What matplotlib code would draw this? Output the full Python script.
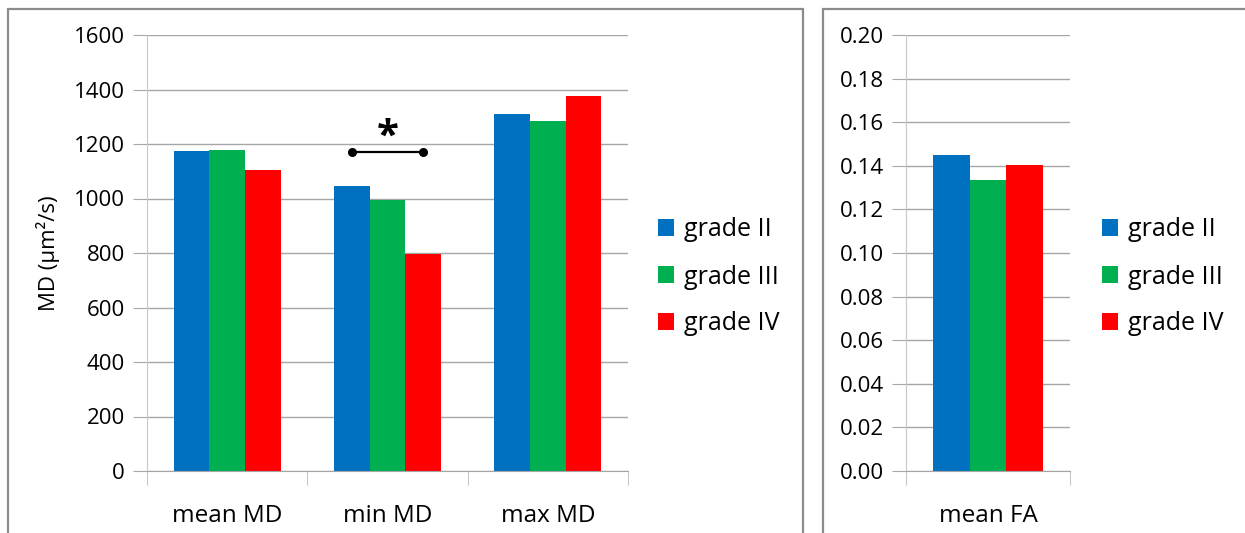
import matplotlib
matplotlib.use("Agg")
import matplotlib.pyplot as plt
from matplotlib.patches import Rectangle
import numpy as np

plt.rcParams['font.family'] = ['Open Sans', 'DejaVu Sans']

# Data
md_categories = ["mean MD", "min MD", "max MD"]
fa_categories = ["mean FA"]
grades = ["grade II", "grade III", "grade IV"]
md_grade2 = [1174, 1046, 1310]
md_grade3 = [1177, 994, 1284]
md_grade4 = [1104, 796, 1376]
fa_grade2 = [0.145]
fa_grade3 = [0.1335]
fa_grade4 = [0.1405]
md_ticks = [0, 200, 400, 600, 800, 1000, 1200, 1400, 1600]
fa_ticks = [0.00, 0.02, 0.04, 0.06, 0.08, 0.10, 0.12, 0.14, 0.16, 0.18, 0.20]
sig_level = 1170

colors = ["#0070C0", "#00B050", "#FF0000"]
grid_col = "#a6a6a6"
W, H = 1245, 533

fig = plt.figure(figsize=(W / 100, H / 100), dpi=100)

# Chart-area borders
fig.patches.append(Rectangle((8 / W, -0.05), (803 - 8) / W, 1.05 - 9 / H,
                             transform=fig.transFigure, fill=False,
                             edgecolor="#8c8c8c", lw=1.6))
fig.patches.append(Rectangle((823 / W, -0.05), 0.5, 1.05 - 9 / H,
                             transform=fig.transFigure, fill=False,
                             edgecolor="#8c8c8c", lw=1.6))

bottom = 1 - 471 / H
height = (471 - 35) / H
ax1 = fig.add_axes([147 / W, bottom, (628 - 147) / W, height])
ax2 = fig.add_axes([906 / W, bottom, (1070 - 906) / W, height])

bw = 0.6667 / 3
offs = [-bw, 0, bw]


def style(ax, ticks, labels, ncat, fmt):
    ax.set_xlim(-0.5, ncat - 0.5)
    ax.set_ylim(ticks[0], ticks[-1])
    ax.set_yticks(ticks)
    ax.set_yticklabels([fmt(t) for t in ticks])
    ax.yaxis.grid(True, color=grid_col, lw=1)
    ax.set_axisbelow(True)
    for s in ("top", "right"):
        ax.spines[s].set_visible(False)
    ax.spines["left"].set_color("#c8c8c8")
    ax.spines["bottom"].set_color(grid_col)
    ax.tick_params(axis="y", length=10, color=grid_col, labelsize=16, pad=6)
    ax.set_xticks(np.arange(-0.5, ncat, 1.0))
    ax.set_xticklabels([])
    ax.set_xticks(np.arange(ncat), minor=True)
    ax.set_xticklabels(labels, minor=True, fontsize=17.5)
    ax.tick_params(axis="x", which="major", length=10, color="#c8c8c8")
    ax.tick_params(axis="x", which="minor", length=0, pad=24)


x1 = np.arange(len(md_categories))
for i, vals in enumerate([md_grade2, md_grade3, md_grade4]):
    ax1.bar(x1 + offs[i], vals, bw, color=colors[i], label=grades[i], zorder=2)
style(ax1, md_ticks, md_categories, 3, lambda t: f"{t:d}")
ax1.set_ylabel("MD (µm²/s)", fontsize=16, labelpad=10)

# Significance marker between grade II and grade IV for min MD
ax1.plot([1 + offs[0], 1 + offs[2]], [sig_level, sig_level], color="black",
         lw=1.6, marker="o", ms=5.5, zorder=3)
ax1.text(1, sig_level + 18, "*", ha="center", va="baseline", fontsize=29,
         fontweight="bold")

x2 = np.arange(len(fa_categories))
for i, vals in enumerate([fa_grade2, fa_grade3, fa_grade4]):
    ax2.bar(x2 + offs[i], vals, bw, color=colors[i], label=grades[i], zorder=2)
style(ax2, fa_ticks, fa_categories, 1, lambda t: f"{t:.2f}")

for ax, xl in ((ax1, 658 / W), (ax2, 1102 / W)):
    ax.legend(loc="center left", bbox_to_anchor=(xl, 1 - 277 / H),
              bbox_transform=fig.transFigure, frameon=False, fontsize=18,
              handlelength=0.65, handleheight=0.65, handletextpad=0.4,
              labelspacing=0.88, borderaxespad=0, borderpad=0)

fig.savefig("out.png", dpi=100)
